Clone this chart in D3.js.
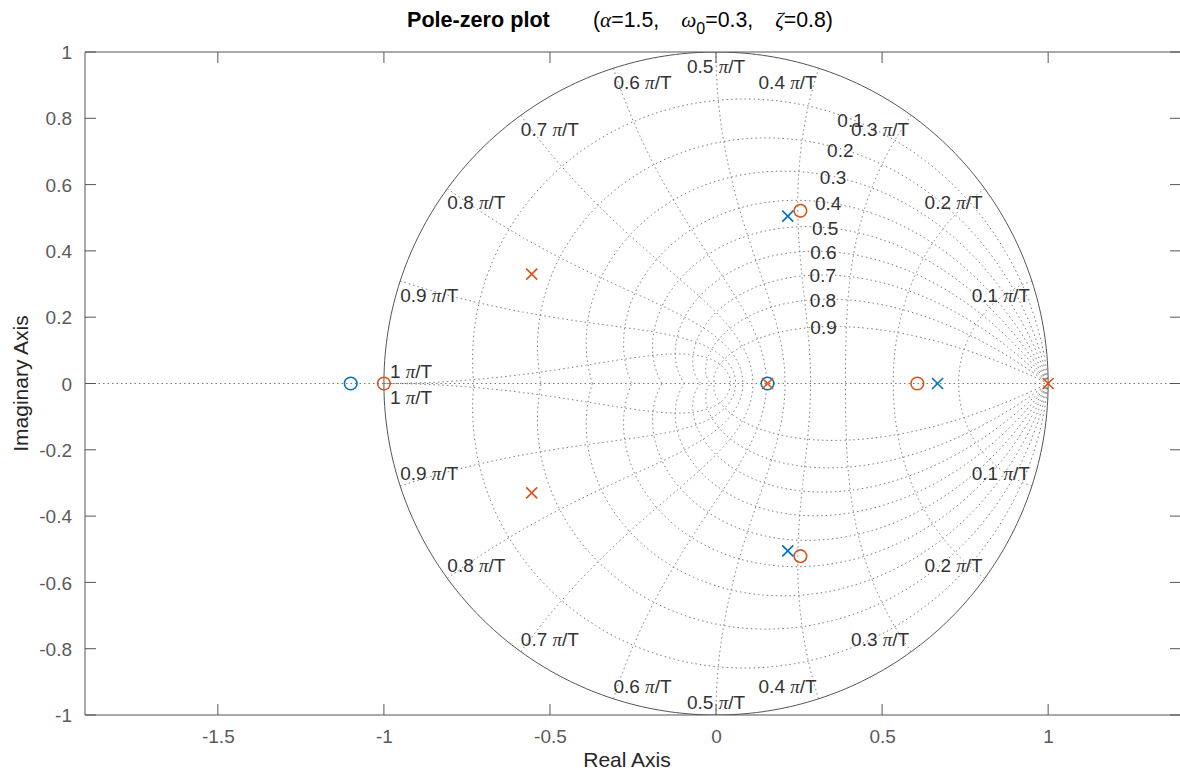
<!DOCTYPE html>
<html>
<head>
<meta charset="utf-8">
<script src="https://cdn.jsdelivr.net/npm/d3@7/dist/d3.min.js"></script>
<style>
  html, body { margin: 0; padding: 0; background: #fff; }
  svg { display: block; font-family: "Liberation Sans", Arial, Helvetica, sans-serif; }
</style>
</head>
<body>
<svg id="chart" width="1180" height="772"></svg>
<script>
// ---- data ----
const blueZeros   = [[-1.1, 0], [0.155, 0]];
const bluePoles   = [[0.667, 0], [0.216, 0.505], [0.216, -0.505]];
const orangeZeros = [[-1.0, 0], [0.606, 0], [0.254, 0.521], [0.254, -0.521]];
const orangePoles = [[1.0, 0], [0.155, 0], [-0.555, 0.33], [-0.555, -0.33]];

const xTicks = [-1.5, -1, -0.5, 0, 0.5, 1];
const yTicks = [-1, -0.8, -0.6, -0.4, -0.2, 0, 0.2, 0.4, 0.6, 0.8, 1];
const zetaValues = [0.1, 0.2, 0.3, 0.4, 0.5, 0.6, 0.7, 0.8, 0.9];
const wnValues = [0.1, 0.2, 0.3, 0.4, 0.5, 0.6, 0.7, 0.8, 0.9, 1];

const xDomain = [-1.9, 1.4];
const yDomain = [-1, 1];

// ---- layout ----
const svg = d3.select("#chart");
const L = 85, R = 1181, T = 52, B = 715;
const x = d3.scaleLinear().domain(xDomain).range([L, R]);
const y = d3.scaleLinear().domain(yDomain).range([B, T]);

const blue = "#0072BD", orange = "#D95319";
const gridColor = "#7a7a7a";
const labelColor = "#333";
const dash = "1.5,3";

svg.append("defs").append("clipPath").attr("id", "clip")
  .append("rect").attr("x", L).attr("y", T).attr("width", R - L).attr("height", B - T);

const plot = svg.append("g").attr("clip-path", "url(#clip)");
const line = d3.line().x(d => x(d[0])).y(d => y(d[1]));

// real axis dotted line
plot.append("path")
  .attr("d", line([[xDomain[0], 0], [xDomain[1], 0]]))
  .attr("fill", "none").attr("stroke", gridColor).attr("stroke-width", 1)
  .attr("stroke-dasharray", dash);

// damping ratio curves
const N = 300;
zetaValues.forEach(z => {
  const c = Math.sqrt(1 - z * z);
  const wmax = Math.PI / c;
  [1, -1].forEach(sg => {
    const pts = d3.range(N + 1).map(i => {
      const w = wmax * i / N;
      const r = Math.exp(-z * w);
      return [r * Math.cos(w * c), sg * r * Math.sin(w * c)];
    });
    plot.append("path").attr("d", line(pts))
      .attr("fill", "none").attr("stroke", gridColor).attr("stroke-width", 1)
      .attr("stroke-dasharray", dash);
  });
});

// natural frequency curves
wnValues.forEach(k => {
  const wn = k * Math.PI;
  [1, -1].forEach(sg => {
    const pts = d3.range(N + 1).map(i => {
      const z = i / N;
      const r = Math.exp(-wn * z);
      const a = wn * Math.sqrt(1 - z * z);
      return [r * Math.cos(a), sg * r * Math.sin(a)];
    });
    plot.append("path").attr("d", line(pts))
      .attr("fill", "none").attr("stroke", gridColor).attr("stroke-width", 1)
      .attr("stroke-dasharray", dash);
  });
});

// unit circle
plot.append("path")
  .attr("d", line(d3.range(361).map(i => [Math.cos(i * Math.PI / 180), Math.sin(i * Math.PI / 180)])))
  .attr("fill", "none").attr("stroke", "#555").attr("stroke-width", 1);

// zeta labels
const lblFont = 19;
zetaValues.forEach(z => {
  const c = Math.sqrt(1 - z * z);
  const w = 0.35 * Math.PI;
  const r = Math.exp(-z * w);
  const px = x(r * Math.cos(w * c)), py = y(r * Math.sin(w * c));
  svg.append("text").attr("x", px - 2).attr("y", py + 7.5)
    .attr("text-anchor", "middle").attr("font-size", lblFont).attr("fill", labelColor)
    .text(String(z));
});

// frequency labels
wnValues.forEach(k => {
  const a = k * Math.PI;
  [1, -1].forEach(sg => {
    const px = x(Math.cos(a)), py = y(sg * Math.sin(a));
    let anchor = k < 0.5 ? "end" : (k > 0.5 ? "start" : "middle");
    let dx = k < 0.5 ? -2 : (k > 0.5 ? 0 : 0);
    let below = sg > 0;
    if (k === 1) { below = !below; dx = 6; }
    const ty = below ? py + 20.5 : py - 6;
    const t = svg.append("text").attr("x", px + dx).attr("y", ty)
      .attr("text-anchor", anchor).attr("font-size", lblFont).attr("fill", labelColor);
    t.append("tspan").text(String(k) + " ");
    t.append("tspan").attr("font-family", "'Liberation Serif', serif").attr("font-style", "italic").text("π");
    t.append("tspan").text("/T");
  });
});

// markers
function circles(data, color) {
  svg.append("g").selectAll("circle").data(data).join("circle")
    .attr("cx", d => x(d[0])).attr("cy", d => y(d[1])).attr("r", 6.3)
    .attr("fill", "none").attr("stroke", color).attr("stroke-width", 1.6);
}
function crosses(data, color) {
  const s = 5.5;
  svg.append("g").selectAll("path").data(data).join("path")
    .attr("d", d => {
      const cx = x(d[0]), cy = y(d[1]);
      return `M${cx - s},${cy - s}L${cx + s},${cy + s}M${cx - s},${cy + s}L${cx + s},${cy - s}`;
    })
    .attr("fill", "none").attr("stroke", color).attr("stroke-width", 1.6);
}
circles(blueZeros, blue);
crosses(bluePoles, blue);
circles(orangeZeros, orange);
crosses(orangePoles, orange);

// axes
const axisColor = "#555";
const axG = svg.append("g");
axG.append("line").attr("x1", L).attr("x2", R).attr("y1", T).attr("y2", T).attr("stroke", axisColor);
axG.append("line").attr("x1", L).attr("x2", R).attr("y1", B).attr("y2", B).attr("stroke", axisColor);
axG.append("line").attr("x1", L).attr("x2", L).attr("y1", T).attr("y2", B).attr("stroke", axisColor);
axG.append("line").attr("x1", R).attr("x2", R).attr("y1", T).attr("y2", B).attr("stroke", axisColor);

const tickLen = 11;
const bottomAxis = d3.axisBottom(x).tickValues(xTicks).tickSize(0).tickPadding(0)
  .tickFormat(d => String(d));
const xa = svg.append("g").attr("transform", `translate(0,${B})`).call(bottomAxis);
xa.select(".domain").remove();
xa.selectAll("text").attr("y", 28).attr("dy", null).attr("font-size", 19)
  .attr("fill", "#5a5a5a").attr("font-family", "'Liberation Sans', Arial, sans-serif");

const leftAxis = d3.axisLeft(y).tickValues(yTicks).tickSize(0).tickPadding(13)
  .tickFormat(d => String(d));
const ya = svg.append("g").attr("transform", `translate(${L},0)`).call(leftAxis);
ya.select(".domain").remove();
ya.selectAll("text").attr("dy", "0.35em").attr("font-size", 19)
  .attr("fill", "#5a5a5a").attr("font-family", "'Liberation Sans', Arial, sans-serif");

// inward ticks
xTicks.forEach(v => {
  axG.append("line").attr("x1", x(v)).attr("x2", x(v)).attr("y1", B).attr("y2", B - tickLen).attr("stroke", axisColor);
  axG.append("line").attr("x1", x(v)).attr("x2", x(v)).attr("y1", T).attr("y2", T + tickLen).attr("stroke", axisColor);
});
yTicks.forEach(v => {
  axG.append("line").attr("x1", L).attr("x2", L + tickLen).attr("y1", y(v)).attr("y2", y(v)).attr("stroke", axisColor);
  axG.append("line").attr("x1", R).attr("x2", R - tickLen).attr("y1", y(v)).attr("y2", y(v)).attr("stroke", axisColor);
});

// axis labels
svg.append("text").attr("x", (L + R) / 2 - 6).attr("y", 767)
  .attr("text-anchor", "middle").attr("font-size", 21).attr("fill", "#262626").text("Real Axis");
svg.append("text").attr("transform", `translate(28,${(T + B) / 2}) rotate(-90)`)
  .attr("text-anchor", "middle").attr("font-size", 21).attr("fill", "#262626").text("Imaginary Axis");

// title
svg.append("text").attr("x", 407).attr("y", 27).attr("font-size", 21.6).attr("font-weight", "bold")
  .attr("fill", "#000").text("Pole-zero plot");
const sub = svg.append("text").attr("x", 593).attr("y", 27).attr("font-size", 21.3).attr("fill", "#000");
const ital = "'Liberation Serif', serif";
sub.append("tspan").text("(");
sub.append("tspan").attr("font-family", ital).attr("font-style", "italic").text("α");
sub.append("tspan").text("=1.5,");
sub.append("tspan").attr("dx", 22).attr("font-family", ital).attr("font-style", "italic").text("ω");
sub.append("tspan").attr("font-size", 16).attr("dy", 7).text("0");
sub.append("tspan").attr("dy", -7).text("=0.3,");
sub.append("tspan").attr("dx", 22).attr("font-family", ital).attr("font-style", "italic").text("ζ");
sub.append("tspan").text("=0.8)");
</script>
</body>
</html>
